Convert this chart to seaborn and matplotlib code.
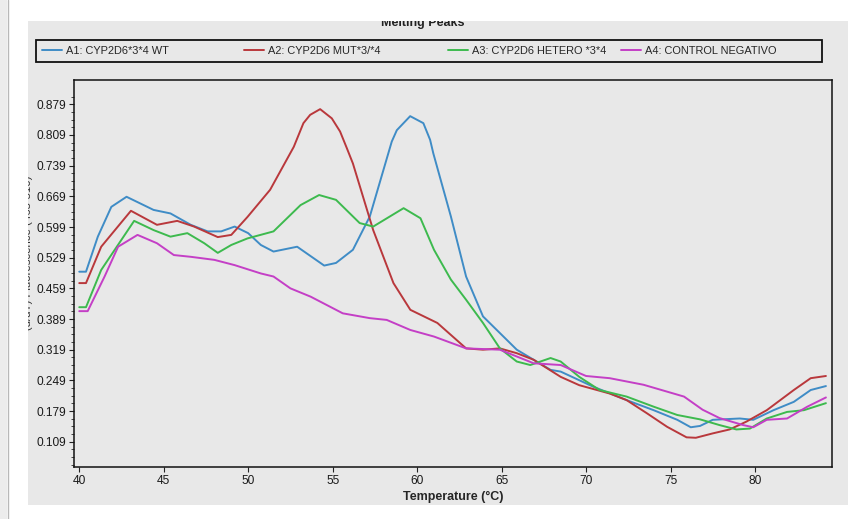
import numpy as np
import pandas as pd
import matplotlib
matplotlib.use("Agg")
import matplotlib.pyplot as plt
from matplotlib.patches import Rectangle
from matplotlib.lines import Line2D
from matplotlib.ticker import FixedLocator
import seaborn as sns

# ---- data: melting peak curves, -(d/dT) fluorescence vs temperature ----
labels = ["A1: CYP2D6*3*4 WT", "A2: CYP2D6 MUT*3/*4",
          "A3: CYP2D6 HETERO *3*4", "A4: CONTROL NEGATIVO"]
colors = ["#3f8cc6", "#b9383c", "#3dba4e", "#c43fc6"]

temp_a1 = [40.0, 40.4, 41.1, 41.9, 42.8, 43.6, 44.4, 45.4, 46.6, 47.6, 48.4,
           49.2, 50.0, 50.75, 51.5, 52.9, 54.5, 55.2, 56.2, 57.2, 58.5, 58.8,
           59.59, 60.37, 60.77, 60.96, 62.0, 62.9, 63.9, 64.9, 65.9, 66.9,
           67.9, 68.5, 70.4, 72.4, 74.0, 75.4, 76.2, 76.75, 77.5, 79.1, 79.9,
           81.1, 82.3, 83.3, 84.2]
vals_a1 = [0.497, 0.497, 0.577, 0.645, 0.668, 0.653, 0.638, 0.630, 0.604,
           0.589, 0.589, 0.600, 0.585, 0.558, 0.543, 0.554, 0.511, 0.517,
           0.547, 0.623, 0.794, 0.820, 0.852, 0.836, 0.798, 0.767, 0.623,
           0.486, 0.395, 0.357, 0.319, 0.296, 0.273, 0.269, 0.235, 0.204,
           0.181, 0.159, 0.142, 0.145, 0.159, 0.162, 0.159, 0.181, 0.200,
           0.227, 0.236]

temp_a2 = [40.0, 40.4, 41.3, 43.06, 44.6, 45.8, 46.8, 48.2, 49.0, 49.96, 51.3,
           52.7, 53.27, 53.67, 54.26, 54.95, 55.44, 55.84, 56.2, 57.4, 58.6,
           59.6, 61.2, 62.9, 63.9, 64.9, 65.9, 66.9, 68.5, 69.6, 71.4, 72.4,
           73.6, 74.8, 75.95, 76.5, 77.5, 78.5, 79.5, 80.7, 82.3, 83.3, 84.2]
vals_a2 = [0.471, 0.471, 0.554, 0.636, 0.604, 0.613, 0.600, 0.576, 0.581,
           0.622, 0.684, 0.782, 0.836, 0.855, 0.868, 0.847, 0.817, 0.779,
           0.744, 0.592, 0.471, 0.410, 0.380, 0.322, 0.319, 0.322, 0.311,
           0.296, 0.257, 0.238, 0.219, 0.204, 0.174, 0.143, 0.119, 0.118,
           0.128, 0.137, 0.155, 0.181, 0.227, 0.254, 0.259]

temp_a3 = [40.0, 40.4, 41.3, 43.25, 44.4, 45.4, 46.4, 47.4, 48.2, 49.0, 49.96,
           51.5, 53.1, 54.2, 55.2, 56.6, 57.4, 59.2, 60.2, 61.0, 62.0, 62.9,
           63.9, 64.9, 65.9, 66.7, 67.9, 68.5, 69.6, 70.8, 72.4, 74.0, 75.4,
           76.75, 77.9, 78.9, 79.7, 80.7, 81.9, 82.9, 84.2]
vals_a3 = [0.416, 0.416, 0.501, 0.613, 0.592, 0.577, 0.585, 0.562, 0.540,
           0.558, 0.573, 0.589, 0.649, 0.672, 0.661, 0.608, 0.600, 0.642,
           0.619, 0.547, 0.479, 0.433, 0.380, 0.322, 0.292, 0.284, 0.300,
           0.292, 0.257, 0.227, 0.212, 0.189, 0.170, 0.160, 0.147, 0.137,
           0.139, 0.162, 0.177, 0.181, 0.197]

temp_a4 = [40.0, 40.5, 41.5, 42.3, 43.45, 44.6, 45.6, 46.6, 48.0, 49.2, 50.75,
           51.5, 52.5, 53.7, 55.6, 57.2, 58.2, 59.6, 61.0, 62.9, 64.9, 66.9,
           68.5, 70.0, 71.4, 73.4, 75.8, 76.9, 77.9, 79.3, 79.9, 80.7, 81.9,
           83.1, 84.2]
vals_a4 = [0.407, 0.407, 0.486, 0.554, 0.581, 0.562, 0.535, 0.531, 0.524,
           0.512, 0.493, 0.486, 0.459, 0.440, 0.402, 0.391, 0.387, 0.364,
           0.349, 0.322, 0.319, 0.288, 0.284, 0.259, 0.254, 0.239, 0.212,
           0.182, 0.163, 0.147, 0.142, 0.159, 0.162, 0.189, 0.210]

y_ticks = [0.109, 0.179, 0.249, 0.319, 0.389, 0.459, 0.529, 0.599,
           0.669, 0.739, 0.809, 0.879]
x_ticks = [40, 45, 50, 55, 60, 65, 70, 75, 80]

frames = []
for lab, t, v in zip(labels, [temp_a1, temp_a2, temp_a3, temp_a4],
                     [vals_a1, vals_a2, vals_a3, vals_a4]):
    frames.append(pd.DataFrame({"Temperature": t, "Value": v, "Sample": lab}))
df = pd.concat(frames, ignore_index=True)

# ---- style ----
sns.set_style("ticks")
plt.rcParams["font.family"] = ["Liberation Sans", "DejaVu Sans"]
panel_gray = "#e8e8e8"

W, H = 861, 519
fig = plt.figure(figsize=(W / 100, H / 100), dpi=100, facecolor="white")

def fx(px):
    return px / W

def fy(py):
    return 1 - py / H

# window panel behind everything
fig.patches.append(Rectangle((0, 0), fx(7), 1, transform=fig.transFigure,
                             facecolor="#ececec", edgecolor="none", zorder=-3))
fig.add_artist(Line2D([fx(8), fx(8)], [0, 1], transform=fig.transFigure,
                      color="#b8b8b8", lw=1.0, zorder=-2))
panel = Rectangle((fx(28), fy(505)), fx(848) - fx(28), fy(21) - fy(505),
                  transform=fig.transFigure, facecolor=panel_gray,
                  edgecolor="none", zorder=-2)
fig.patches.append(panel)

ax = fig.add_axes([fx(74), fy(467), fx(832) - fx(74), fy(80) - fy(467)])
ax.set_facecolor(panel_gray)

sns.lineplot(data=df, x="Temperature", y="Value", hue="Sample",
             hue_order=labels, palette=colors, sort=False, estimator=None,
             linewidth=1.4, legend=False, ax=ax)

ax.set_xlim(39.69, 84.56)
ax.set_ylim(0.0513, 0.9345)
ax.xaxis.set_major_locator(FixedLocator(x_ticks))
ax.set_xticklabels([str(x) for x in x_ticks])
ax.yaxis.set_major_locator(FixedLocator(y_ticks))
ax.set_yticklabels([f"{y:.3f}" for y in y_ticks])
ax.yaxis.set_minor_locator(FixedLocator(
    [0.109 + 0.0175 * k for k in range(-3, 46) if 0.052 < 0.109 + 0.0175 * k < 0.93]))
ax.tick_params(axis="both", which="major", labelsize=8.6, color="#222222",
               length=3.5, width=0.8, pad=2, labelcolor="#1a1a1a")
ax.tick_params(axis="y", which="minor", length=2, width=0.7, color="#444444")
ax.tick_params(axis="x", which="minor", length=0)
for sp in ax.spines.values():
    sp.set_visible(True)
    sp.set_color("#111111")
    sp.set_linewidth(1.1)

ax.set_xlabel("Temperature (°C)", fontsize=9, fontweight="bold", labelpad=3)
ax.set_ylabel("")

# title and y label, both clipped by the panel edge
t = fig.text(fx(423), fy(23), "Melting Peaks", ha="center", va="center",
             fontsize=9, fontweight="bold", color="#222222")
t.set_clip_path(panel)
yl = fig.text(fx(28), fy(255), "-(d/dT) Fluorescence (465-510)", rotation=90,
              ha="center", va="center", fontsize=8.2, color="#333333")
yl.set_clip_path(panel)

# legend frame with four placed entries
fig.patches.append(Rectangle((fx(36), fy(62)), fx(822) - fx(36), fy(40) - fy(62),
                             transform=fig.transFigure, facecolor=panel_gray,
                             edgecolor="#111111", lw=1.3, zorder=1))
entry_x = [42, 244, 448, 621]
for lab, col, px in zip(labels, colors, entry_x):
    h = Line2D([], [], color=col, lw=1.4)
    lg = fig.legend([h], [lab], loc="center left",
                    bbox_to_anchor=(fx(px), fy(51)), frameon=False,
                    fontsize=7.9, handlelength=1.8, handletextpad=0.35,
                    borderpad=0, borderaxespad=0)
    lg.set_zorder(2)

fig.savefig("out.png", dpi=100, facecolor="white")
